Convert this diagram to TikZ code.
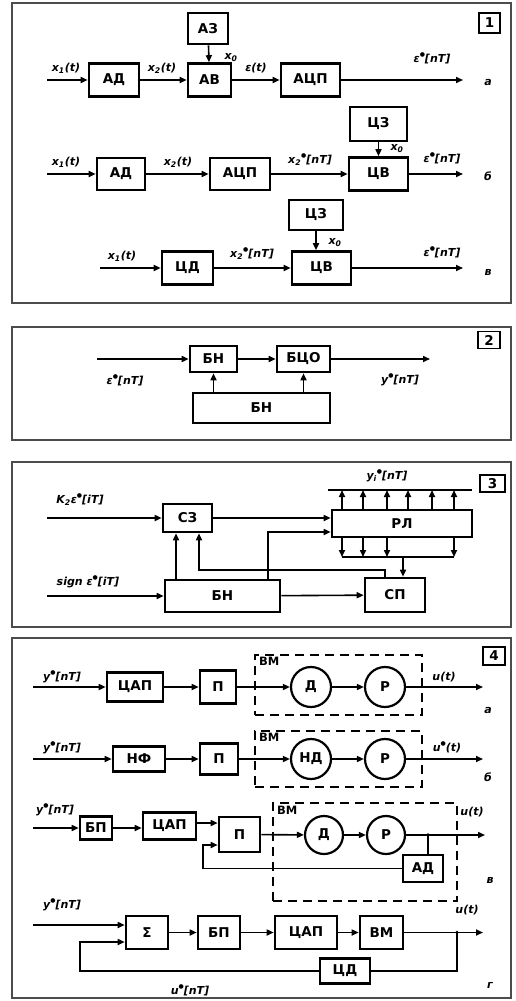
\documentclass[tikz,border=0pt]{standalone}
\usepackage{fontspec}
\setmainfont{DejaVu Sans}
\usetikzlibrary{arrows.meta,calc}
\newcommand\mybxf{\fontsize{13.5}{15}\selectfont\bfseries}
\newcommand\mylabf{\itshape\bfseries\fontsize{11}{12}\selectfont}
\newcommand\bul{\raisebox{0.55em}{\fontsize{6}{6}\selectfont●}}
\begin{document}
\begin{tikzpicture}[x=1pt,y=-1pt,
  blk/.style={draw, line width=2.6pt, inner sep=0pt, font=\mybxf},
  crc/.style={draw, circle, line width=2.2pt, inner sep=0pt, minimum size=40pt, font=\mybxf},
  ln/.style={line width=1.6pt},
  arr/.style={ln, -{Triangle[length=7pt,width=6pt]}},
  lab/.style={font=\mylabf, inner sep=0pt},
  frm/.style={draw=black!70, line width=1.6pt},
  dsh/.style={draw, dash pattern=on 9pt off 6pt, line width=1.8pt},
  tag/.style={draw, line width=1.8pt, font=\mybxf, inner sep=0pt},
  bm/.style={font=\bfseries\fontsize{11.5}{12}\selectfont, inner sep=0pt, anchor=north west}]
\useasboundingbox (0,0) rectangle (515,1001);
\fill[white] (0,0) rectangle (515,1001);
% ================= panel 1 =================
\draw[frm] (12,3) rectangle (511,303);
\node[tag, minimum width=21, minimum height=20] (t1) at (489.5,23) {1};
% row a
\node[blk, minimum width=50, minimum height=33] (ad1) at (114,80) {АД};
\node[blk, minimum width=43, minimum height=33] (av1) at (209.5,80) {АВ};
\node[blk, minimum width=40, minimum height=31] (az1) at (208,28.5) {АЗ};
\node[blk, minimum width=59, minimum height=33] (acp1) at (310.5,80) {АЦП};
\coordinate (a1in) at (47,80);
\coordinate (a1out) at (463,80);
\draw[arr] (a1in) -- (ad1);
\draw[arr] (ad1) -- (av1);
\draw[arr] (az1) -- (av1);
\draw[arr] (av1) -- (acp1);
\draw[arr] (acp1) -- (a1out);
\node[lab] (la1) at (66,68) {x\textsubscript{1}(t)};
\node[lab] (la2) at (162,68) {x\textsubscript{2}(t)};
\node[lab] (la3) at (231,58) {x\textsubscript{0}};
\node[lab] (la4) at (256,68) {ε(t)};
\node[lab] (la5) at (432,58) {ε\bul[nT]};
\node[lab] (la6) at (488,82) {а};
% row b
\node[blk, minimum width=48, minimum height=32] (ad2) at (121,174) {АД};
\node[blk, minimum width=60, minimum height=32] (acp2) at (240,174) {АЦП};
\node[blk, minimum width=59, minimum height=33] (cv2) at (378.5,174) {ЦВ};
\node[blk, minimum width=57, minimum height=34] (cz2) at (378.5,124) {ЦЗ};
\coordinate (b1in) at (47,174);
\coordinate (b1out) at (463,174);
\draw[arr] (b1in) -- (ad2);
\draw[arr] (ad2) -- (acp2);
\draw[arr] (acp2) -- (cv2);
\draw[arr] (cz2) -- (cv2);
\draw[arr] (cv2) -- (b1out);
\node[lab] (lb1) at (66,162) {x\textsubscript{1}(t)};
\node[lab] (lb2) at (178,162) {x\textsubscript{2}(t)};
\node[lab] (lb3) at (310,160) {x\textsubscript{2}\bul[nT]};
\node[lab] (lb4) at (397,149) {x\textsubscript{0}};
\node[lab] (lb5) at (442,158) {ε\bul[nT]};
\node[lab] (lb6) at (488,176) {б};
% row v
\node[blk, minimum width=51, minimum height=33] (cd3) at (187.5,268) {ЦД};
\node[blk, minimum width=59, minimum height=33] (cv3) at (321.5,268) {ЦВ};
\node[blk, minimum width=54, minimum height=30] (cz3) at (316,215) {ЦЗ};
\coordinate (c1in) at (100,268);
\coordinate (c1out) at (463,268);
\draw[arr] (c1in) -- (cd3);
\draw[arr] (cd3) -- (cv3);
\draw[arr] (cz3.south) -- (cz3.south |- cv3.north);
\draw[arr] (cv3) -- (c1out);
\node[lab] (lc1) at (122,256) {x\textsubscript{1}(t)};
\node[lab] (lc2) at (252,254) {x\textsubscript{2}\bul[nT]};
\node[lab] (lc3) at (335,243) {x\textsubscript{0}};
\node[lab] (lc4) at (442,252) {ε\bul[nT]};
\node[lab] (lc5) at (488,272) {в};
% ================= panel 2 =================
\draw[frm] (12,327) rectangle (511,440);
\node[tag, minimum width=22, minimum height=17] (t2) at (489,340) {2};
\node[blk, minimum width=47, minimum height=26] (bn2) at (213.5,359) {БН};
\node[blk, minimum width=53, minimum height=26] (bco2) at (303.5,359) {БЦО};
\node[blk, minimum width=137, minimum height=30] (bnb2) at (261.5,408) {БН};
\coordinate (p2in) at (97,359);
\coordinate (p2out) at (430,359);
\draw[arr] (p2in) -- (bn2);
\draw[arr] (bn2) -- (bco2);
\draw[arr] (bco2) -- (p2out);
\draw[arr] (bnb2.north -| bn2) -- (bn2);
\draw[arr] (bnb2.north -| bco2) -- (bco2);
\node[lab] (l21) at (125,380) {ε\bul[nT]};
\node[lab] (l22) at (400,380) {y\bul[nT]};
% ================= panel 3 =================
\draw[frm] (12,462) rectangle (511,627);
\node[tag, minimum width=25, minimum height=17] (t3) at (492.5,483.5) {3};
\node[blk, minimum width=49, minimum height=28] (sz3) at (187.5,518) {СЗ};
\node[blk, minimum width=140, minimum height=27] (rl3) at (402,523.5) {РЛ};
\node[blk, minimum width=60, minimum height=34] (sp3) at (395,595) {СП};
\node[blk, minimum width=115, minimum height=32] (bn3) at (222.5,596) {БН};
\coordinate (k3in) at (47,518);
\coordinate (s3in) at (47,596);
\draw[arr] (k3in) -- (sz3);
\draw[arr] (s3in) -- (bn3);
\draw[arr] (sz3) -- (sz3 -| rl3.west);
\draw[arr] (bn3) -- (sp3);
\draw[arr] (bn3.north -| 176,0) -- (sz3.south -| 176,0);
\draw[arr] (bn3.north -| 268,0) |- (rl3.west |- 0,532);
\draw[arr] (sp3.north -| 385,0) -- (385,570) -| (sz3.south -| 199,0);
% outputs of RL
\coordinate (ytl) at (328,490);
\coordinate (ytr) at (472,490);
\draw[ln] (ytl) -- (ytr);
\foreach \xx in {342,363,387,408,432,454}{
  \draw[arr] (rl3.north -| \xx,0) -- (ytl -| \xx,0);
}
\coordinate (ybl) at (342,557);
\coordinate (ybr) at (454,557);
\draw[ln] (ybl) -- (ybr);
\foreach \xx in {342,363,387,454}{
  \draw[arr] (rl3.south -| \xx,0) -- (ybl -| \xx,0);
}
\draw[arr] (ybl -| 403,0) -- (sp3.north -| 403,0);
\node[lab] (l31) at (80,500) {K\textsubscript{2}ε\bul[iT]};
\node[lab] (l32) at (88,582) {sign ε\bul[iT]};
\node[lab] (l33) at (387,476) {y\textsubscript{i}\bul[nT]};
% ================= panel 4 =================
\draw[frm] (12,638) rectangle (511,998);
\node[tag, minimum width=22, minimum height=18] (t4) at (494,656) {4};
% row a
\node[blk, minimum width=56, minimum height=29] (cap4a) at (135,687) {ЦАП};
\node[blk, minimum width=36, minimum height=33] (p4a) at (218,687) {П};
\node[dsh, minimum width=167, minimum height=60] (vm4a) at (338.5,685) {};
\node[crc] (d4a) at (311,687) {Д};
\node[crc] (r4a) at (385,687) {Р};
\node[bm] (vl4a) at (259,657) {ВМ};
\coordinate (a4in) at (33,687);
\coordinate (a4out) at (483,687);
\draw[arr] (a4in) -- (cap4a);
\draw[arr] (cap4a) -- (p4a);
\draw[arr] (p4a) -- (d4a);
\draw[arr] (d4a) -- (r4a);
\draw[arr] (r4a) -- (a4out);
\node[lab] (l4a1) at (62,677) {y\bul[nT]};
\node[lab] (l4a2) at (444,677) {u(t)};
\node[lab] (l4a3) at (488,710) {а};
% row b
\node[blk, minimum width=52, minimum height=25] (nf4b) at (139,759) {НФ};
\node[blk, minimum width=38, minimum height=31] (p4b) at (219,759) {П};
\node[dsh, minimum width=167, minimum height=56] (vm4b) at (338.5,759) {};
\node[crc] (d4b) at (311,759) {НД};
\node[crc] (r4b) at (385,759) {Р};
\node[bm] (vl4b) at (259,733) {ВМ};
\coordinate (b4in) at (33,759);
\coordinate (b4out) at (483,759);
\draw[arr] (b4in) -- (nf4b);
\draw[arr] (nf4b) -- (p4b);
\draw[arr] (p4b) -- (d4b);
\draw[arr] (d4b) -- (r4b);
\draw[arr] (r4b) -- (b4out);
\node[lab] (l4b1) at (62,748) {y\bul[nT]};
\node[lab] (l4b2) at (447,747) {u\bul(t)};
\node[lab] (l4b3) at (488,777) {б};
% row v
\node[blk, minimum width=32, minimum height=23] (bp4c) at (96,828) {БП};
\node[blk, minimum width=53, minimum height=27] (cap4c) at (169.5,826) {ЦАП};
\node[blk, minimum width=41, minimum height=35] (p4c) at (239.5,834.5) {П};
\node[dsh, minimum width=184, minimum height=98] (vm4c) at (365,852) {};
\node[crc, minimum size=38pt] (d4c) at (324,835) {Д};
\node[crc, minimum size=38pt] (r4c) at (386,835) {Р};
\node[blk, minimum width=40, minimum height=27] (ad4c) at (423,868.5) {АД};
\node[bm] (vl4c) at (277,806) {ВМ};
\coordinate (c4in) at (33,828);
\coordinate (c4out) at (485,835);
\coordinate (c4j) at (428,835);
\draw[arr] (c4in) -- (bp4c);
\draw[arr] (bp4c) -- (bp4c -| cap4c.west);
\draw[arr] (cap4c.east |- 0,823) -- (p4c.west |- 0,823);
\draw[arr] (p4c) -- (d4c);
\draw[arr] (d4c) -- (r4c);
\draw[arr] (r4c) -- (c4out);
\draw[ln] (c4j) -- (ad4c.north -| c4j);
\fill (c4j) circle (1.8pt);
\draw[arr] (ad4c.west) -| (203,845) -- (p4c.west |- 0,845);
\node[lab] (l4c1) at (55,810) {y\bul[nT]};
\node[lab] (l4c2) at (472,812) {u(t)};
\node[lab] (l4c3) at (490,880) {в};
% row g
\node[blk, minimum width=42, minimum height=33] (sg4d) at (147,932.5) {Σ};
\node[blk, minimum width=42, minimum height=33] (bp4d) at (219,932.5) {БП};
\node[blk, minimum width=62, minimum height=33] (cap4d) at (306,932.5) {ЦАП};
\node[blk, minimum width=43, minimum height=33] (vm4d) at (381.5,932.5) {ВМ};
\node[blk, minimum width=50, minimum height=25] (cd4d) at (345,971) {ЦД};
\coordinate (d4in) at (33,925);
\coordinate (d4out) at (483,932.5);
\coordinate (d4j) at (457,932.5);
\draw[arr] (d4in) -- (sg4d.west |- d4in);
\draw[arr] (sg4d) -- (bp4d);
\draw[arr] (bp4d) -- (cap4d);
\draw[arr] (cap4d) -- (vm4d);
\draw[arr] (vm4d) -- (d4out);
\fill (d4j) circle (1.8pt);
\draw[ln] (d4j) |- (cd4d.east);
\draw[arr] (cd4d.west) -| (80,942) -- (sg4d.west |- 0,942);
\node[lab] (l4d1) at (62,905) {y\bul[nT]};
\node[lab] (l4d2) at (467,910) {u(t)};
\node[lab] (l4d3) at (190,990) {u\bul[nT]};
\node[lab] (l4d4) at (490,985) {г};
\end{tikzpicture}
\end{document}
